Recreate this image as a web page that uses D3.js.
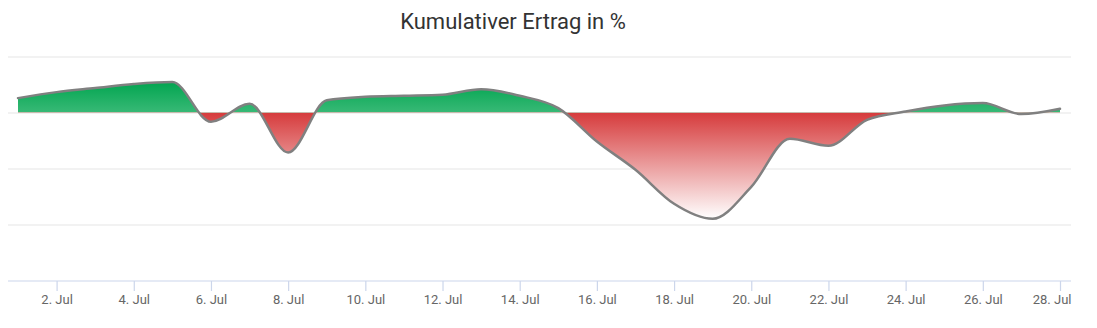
<!DOCTYPE html>
<html>
<head>
<meta charset="utf-8">
<script src="https://cdn.jsdelivr.net/npm/d3@7"></script>
<style>
  html, body { margin: 0; padding: 0; background: #fff; }
  svg { display: block; font-family: Roboto, "Noto Sans", sans-serif; }
</style>
</head>
<body>
<svg id="chart" width="1097" height="328"></svg>
<script>
// ---- data ----
const title = "Kumulativer Ertrag in %";
const days = d3.range(1, 29); // 1..28 July
const values = [
  0.257, 0.364, 0.436, 0.507, 0.543, -0.166, 0.155, -0.714, 0.218, 0.280,
  0.298, 0.316, 0.414, 0.298, 0.079, -0.518, -1.023, -1.630, -1.898, -1.327,
  -0.470, -0.595, -0.130, 0.018, 0.125, 0.168, -0.029, 0.066
];
const yTicks = [1, 0, -1, -2, -3];
const xTickDays = [2, 4, 6, 8, 10, 12, 14, 16, 18, 20, 22, 24, 26, 28];

const dates = days.map(d => new Date(Date.UTC(2023, 6, d)));
const data = dates.map((dt, i) => ({ date: dt, v: values[i] }));

// ---- layout ----
const plotLeft = 8, plotRight = 1071;
const svg = d3.select("#chart");

const x = d3.scaleUtc()
  .domain([dates[0], dates[dates.length - 1]])
  .range([18, 1060]);
const y = d3.scaleLinear().domain([-3, 1]).range([280.5, 56.5]);

// title
svg.append("text")
  .attr("x", 513).attr("y", 28.5)
  .attr("text-anchor", "middle")
  .attr("fill", "#333333")
  .attr("font-size", "22px")
  .text(title);

// gridlines
svg.append("g").selectAll("line")
  .data(yTicks.slice(0, -1))
  .join("line")
  .attr("x1", plotLeft).attr("x2", plotRight)
  .attr("y1", d => Math.round(y(d)) + 0.5 - 0.5)
  .attr("y2", d => Math.round(y(d)) + 0.5 - 0.5)
  .attr("stroke", "#e6e6e6").attr("stroke-width", 1.2);

// gradients
const defs = svg.append("defs");
const yMax = y(d3.max(values)), yMin = y(d3.min(values)), y0 = y(0);
const gG = defs.append("linearGradient").attr("id", "gGreen")
  .attr("gradientUnits", "userSpaceOnUse")
  .attr("x1", 0).attr("x2", 0).attr("y1", yMax).attr("y2", y0);
gG.append("stop").attr("offset", 0).attr("stop-color", "#02a550");
gG.append("stop").attr("offset", 1).attr("stop-color", "#38b976");
const gR = defs.append("linearGradient").attr("id", "gRed")
  .attr("gradientUnits", "userSpaceOnUse")
  .attr("x1", 0).attr("x2", 0).attr("y1", y0).attr("y2", yMin);
gR.append("stop").attr("offset", 0).attr("stop-color", "#d63b3c");
gR.append("stop").attr("offset", 1).attr("stop-color", "#ffffff");

defs.append("clipPath").attr("id", "clipTop").append("rect")
  .attr("x", 0).attr("y", 0).attr("width", 1097).attr("height", y0);
defs.append("clipPath").attr("id", "clipBot").append("rect")
  .attr("x", 0).attr("y", y0).attr("width", 1097).attr("height", 328 - y0);

const curve = d3.curveMonotoneX;
const area = d3.area()
  .x(d => x(d.date)).y0(y0).y1(d => y(d.v)).curve(curve);
const line = d3.line()
  .x(d => x(d.date)).y(d => y(d.v)).curve(curve);

svg.append("path").datum(data).attr("d", area)
  .attr("fill", "url(#gGreen)").attr("clip-path", "url(#clipTop)");
svg.append("path").datum(data).attr("d", area)
  .attr("fill", "url(#gRed)").attr("clip-path", "url(#clipBot)");
svg.append("path").datum(data).attr("d", line)
  .attr("fill", "none").attr("stroke", "#808080")
  .attr("stroke-width", 2.5).attr("stroke-linejoin", "round")
  .attr("stroke-linecap", "round");

// x axis
const axisY = Math.round(y(-3));
const xAxis = d3.axisBottom(x)
  .tickValues(xTickDays.map(d => new Date(Date.UTC(2023, 6, d))))
  .tickFormat(d => d.getUTCDate() + ". Jul")
  .tickSizeOuter(0).tickSize(10).tickPadding(4);
const gx = svg.append("g").attr("transform", `translate(0,${axisY})`).call(xAxis);
gx.select(".domain").remove();
gx.append("line").attr("x1", plotLeft).attr("x2", plotRight)
  .attr("y1", 0).attr("y2", 0).attr("stroke", "#ccd6eb").attr("stroke-width", 1.2);
gx.selectAll(".tick line").attr("stroke", "#ccd6eb").attr("stroke-width", 1.2);
gx.selectAll(".tick text")
  .attr("fill", "#666666")
  .attr("font-size", "13px")
  .attr("font-family", "Roboto, sans-serif");
// keep last label inside plot
gx.selectAll(".tick").filter((d, i, n) => i === n.length - 1)
  .select("text").attr("text-anchor", "end")
  .attr("x", function () { return plotRight - x(xTickDays.length ? new Date(Date.UTC(2023, 6, 28)) : 0); });
</script>
</body>
</html>
